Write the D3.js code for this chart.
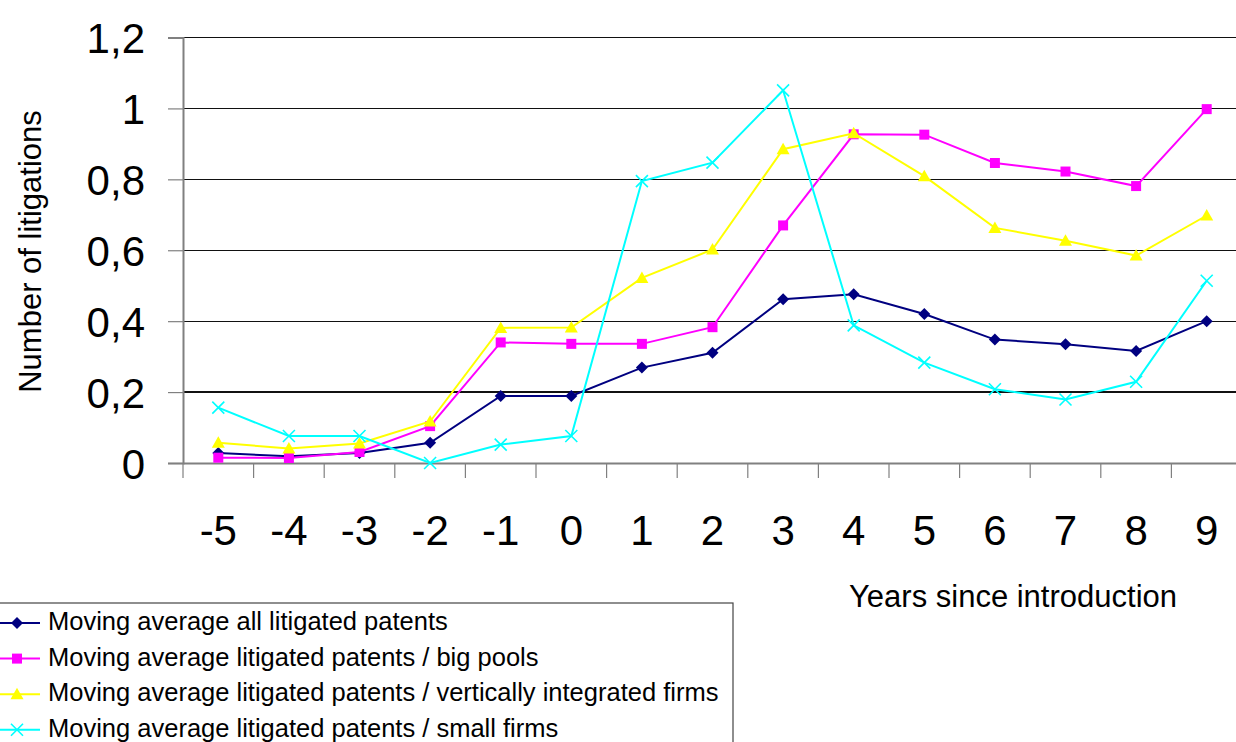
<!DOCTYPE html>
<html>
<head>
<meta charset="utf-8">
<script src="https://cdn.jsdelivr.net/npm/d3@7"></script>
<style>
  html, body { margin: 0; padding: 0; background: #fff; }
  svg { display: block; font-family: "Liberation Sans", Arial, sans-serif; }
</style>
</head>
<body>
<svg id="chart" width="1236" height="742"></svg>
<script>
// Years relative to the introduction of the pool
const years = ["-5", "-4", "-3", "-2", "-1", "0", "1", "2", "3", "4", "5", "6", "7", "8", "9"];

// Moving averages of litigations per patent
const allPatents     = [0.028, 0.019, 0.028, 0.057, 0.189, 0.189, 0.269, 0.311, 0.462, 0.476, 0.420, 0.348, 0.335, 0.316, 0.400];
const bigPools       = [0.015, 0.014, 0.031, 0.104, 0.340, 0.336, 0.336, 0.383, 0.670, 0.927, 0.926, 0.846, 0.822, 0.781, 0.998];
const verticalFirms  = [0.057, 0.041, 0.055, 0.117, 0.381, 0.382, 0.522, 0.602, 0.885, 0.930, 0.809, 0.663, 0.627, 0.585, 0.698];
const smallFirms     = [0.156, 0.076, 0.076, 0.000, 0.052, 0.076, 0.795, 0.847, 1.051, 0.388, 0.283, 0.208, 0.179, 0.229, 0.514];

const yTicks = [0, 0.2, 0.4, 0.6, 0.8, 1, 1.2];

const seriesNames = [
  "Moving average all litigated patents",
  "Moving average litigated patents / big pools",
  "Moving average litigated patents / vertically integrated firms",
  "Moving average litigated patents / small firms"
];

const series = [
  { name: seriesNames[0], values: allPatents,    color: "#000080", marker: "diamond" },
  { name: seriesNames[1], values: bigPools,      color: "#FF00FF", marker: "square" },
  { name: seriesNames[2], values: verticalFirms, color: "#FFFF00", marker: "triangle" },
  { name: seriesNames[3], values: smallFirms,    color: "#00FFFF", marker: "cross" }
];

const svg = d3.select("#chart");

const plot = { left: 183, right: 1242, top: 37.5, bottom: 463 };

const x = d3.scaleBand().domain(years).range([plot.left, plot.right]);
const y = d3.scaleLinear().domain([0, 1.2]).range([plot.bottom, plot.top]);
const cx = d => x(d) + x.bandwidth() / 2;

// Horizontal gridlines
svg.append("g")
  .selectAll("line")
  .data(yTicks.filter(t => t > 0))
  .join("line")
  .attr("x1", plot.left).attr("x2", plot.right)
  .attr("y1", d => y(d)).attr("y2", d => y(d))
  .attr("stroke", "#111").attr("stroke-width", 1.2)
  .attr("shape-rendering", "crispEdges");

// Y axis
const yAxis = d3.axisLeft(y)
  .tickValues(yTicks)
  .tickSize(15)
  .tickPadding(0)
  .tickFormat(d => d3.format("~g")(d).replace(".", ","));

const gy = svg.append("g")
  .attr("transform", `translate(${plot.left},0)`)
  .call(yAxis);
gy.select(".domain").attr("stroke", "#808080").attr("stroke-width", 2);
gy.selectAll(".tick line").attr("stroke", "#808080").attr("stroke-width", 1.2);
gy.selectAll(".tick text")
  .attr("x", -38)
  .attr("dy", null)
  .attr("y", 15)
  .attr("fill", "#000")
  .style("font-size", "42px")
  .style("font-family", "'Liberation Sans', Arial, sans-serif");

// X axis: tick marks at category boundaries, labels at category centers
const gx = svg.append("g")
  .attr("transform", `translate(0,${plot.bottom})`)
  .call(d3.axisBottom(x).tickSize(0).tickFormat(d => d).tickPadding(0));
gx.select(".domain").attr("stroke", "#808080").attr("stroke-width", 2);
gx.selectAll(".tick text")
  .attr("y", 82)
  .attr("dy", null)
  .attr("fill", "#000")
  .style("font-size", "42px")
  .style("font-family", "'Liberation Sans', Arial, sans-serif");

svg.append("g")
  .selectAll("line")
  .data(years)
  .join("line")
  .attr("x1", d => x(d)).attr("x2", d => x(d))
  .attr("y1", plot.bottom).attr("y2", plot.bottom + 15)
  .attr("stroke", "#808080").attr("stroke-width", 1.2);

// Axis titles
svg.append("text")
  .attr("x", 1013).attr("y", 607)
  .attr("text-anchor", "middle")
  .style("font-size", "31px")
  .text("Years since introduction");

svg.append("text")
  .attr("transform", "translate(41,251.5) rotate(-90)")
  .attr("text-anchor", "middle")
  .style("font-size", "31px")
  .text("Number of litigations");

// Marker shapes
function markerPath(type) {
  switch (type) {
    case "diamond":  return "M0,-6L6,0L0,6L-6,0Z";
    case "square":   return "M-5,-5H5V5H-5Z";
    case "triangle": return "M0,-6.5L6.5,5L-6.5,5Z";
    case "cross":    return "M-6,-6L6,6M-6,6L6,-6";
  }
}
function drawMarker(g, type, color) {
  const p = g.append("path").attr("d", markerPath(type));
  if (type === "cross") p.attr("fill", "none").attr("stroke", color).attr("stroke-width", 1.6);
  else p.attr("fill", color).attr("stroke", "none");
}

// Series lines and markers
const line = d3.line().x((d, i) => cx(years[i])).y(d => y(d));

series.forEach(s => {
  const g = svg.append("g");
  g.append("path")
    .datum(s.values)
    .attr("d", line)
    .attr("fill", "none")
    .attr("stroke", s.color)
    .attr("stroke-width", 2);
  s.values.forEach((v, i) => {
    const m = g.append("g").attr("transform", `translate(${cx(years[i])},${y(v)})`);
    drawMarker(m, s.marker, s.color);
  });
});

// Legend
const legend = svg.append("g");
legend.append("rect")
  .attr("x", -1).attr("y", 603)
  .attr("width", 734).attr("height", 160)
  .attr("fill", "#fff")
  .attr("stroke", "#444").attr("stroke-width", 1.2);

series.forEach((s, i) => {
  const ry = 623 + i * 35.6;
  const row = legend.append("g");
  row.append("line")
    .attr("x1", 0).attr("x2", 40)
    .attr("y1", ry).attr("y2", ry)
    .attr("stroke", s.color).attr("stroke-width", 2);
  drawMarker(row.append("g").attr("transform", `translate(17,${ry})`), s.marker, s.color);
  row.append("text")
    .attr("x", 48).attr("y", ry + 7)
    .style("font-size", "25.5px")
    .text(s.name);
});
</script>
</body>
</html>
